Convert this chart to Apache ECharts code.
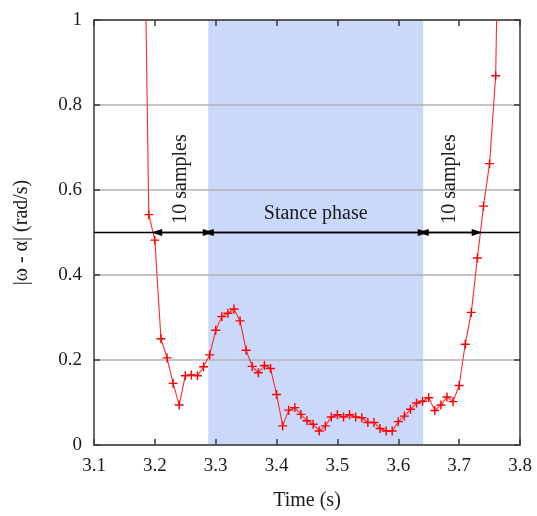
<!DOCTYPE html>
<html>
<head>
<meta charset="utf-8">
<script src="https://cdn.jsdelivr.net/npm/echarts/dist/echarts.min.js"></script>
<style>
  html, body { margin: 0; padding: 0; background: #ffffff; }
  #chart { width: 537px; height: 516px; }
</style>
</head>
<body>
<div id="chart"></div>
<script>
// Sample times (s) and the angular-rate mismatch |ω - α| (rad/s) at each sample
const timeS = [
  3.18, 3.19, 3.20, 3.21, 3.22, 3.23, 3.24, 3.25, 3.26, 3.27,
  3.28, 3.29, 3.30, 3.31, 3.32, 3.33, 3.34, 3.35, 3.36, 3.37,
  3.38, 3.39, 3.40, 3.41, 3.42, 3.43, 3.44, 3.45, 3.46, 3.47,
  3.48, 3.49, 3.50, 3.51, 3.52, 3.53, 3.54, 3.55, 3.56, 3.57,
  3.58, 3.59, 3.60, 3.61, 3.62, 3.63, 3.64, 3.65, 3.66, 3.67,
  3.68, 3.69, 3.70, 3.71, 3.72, 3.73, 3.74, 3.75, 3.76, 3.77
];
const rateError = [
  1.55, 0.542, 0.482, 0.250, 0.205, 0.145, 0.094, 0.163, 0.165, 0.163,
  0.184, 0.212, 0.270, 0.302, 0.310, 0.320, 0.292, 0.223, 0.185, 0.170,
  0.187, 0.180, 0.119, 0.045, 0.082, 0.088, 0.072, 0.057, 0.049, 0.033,
  0.045, 0.066, 0.071, 0.066, 0.071, 0.066, 0.064, 0.053, 0.053, 0.039,
  0.033, 0.033, 0.055, 0.068, 0.084, 0.099, 0.103, 0.111, 0.081, 0.094,
  0.113, 0.102, 0.140, 0.237, 0.312, 0.440, 0.562, 0.662, 0.869, 1.70
];

// Stance phase interval (s) and the 10-sample windows either side of it
const stancePhase = [3.2877, 3.641];
const windowBefore = [3.203, 3.2877];
const windowAfter = [3.641, 3.7296];
const arrowLevel = 0.5;

// Axis ranges
const xRange = [3.1, 3.8];
const yRange = [0, 1];

const FONT = '"Liberation Serif", "Times New Roman", serif';
const AXIS_COLOR = '#3a3a3a';
const TEXT_COLOR = '#1a1a1a';

const points = timeS.map((t, i) => [t, rateError[i]]);

const plusSymbol = 'path://M4.2,0H5.8V4.2H10V5.8H5.8V10H4.2V5.8H0V4.2H4.2Z';

function xAxisBase(pos, showLabels) {
  return {
    type: 'value',
    position: pos,
    min: xRange[0],
    max: xRange[1],
    interval: 0.1,
    axisLine: { show: true, onZero: false, lineStyle: { color: AXIS_COLOR, width: 1.5 } },
    axisTick: { show: true, inside: true, length: 6, lineStyle: { color: AXIS_COLOR, width: 1.5 } },
    splitLine: { show: false },
    axisLabel: {
      show: showLabels,
      margin: 12,
      color: TEXT_COLOR,
      fontFamily: FONT,
      fontSize: 19,
      formatter: v => v.toFixed(1)
    }
  };
}

function yAxisBase(pos, showLabels) {
  return {
    type: 'value',
    position: pos,
    min: yRange[0],
    max: yRange[1],
    interval: 0.2,
    axisLine: { show: true, onZero: false, lineStyle: { color: AXIS_COLOR, width: 1.5 } },
    axisTick: { show: true, inside: true, length: 6, lineStyle: { color: AXIS_COLOR, width: 1.5 } },
    splitLine: { show: showLabels, lineStyle: { color: '#b3b3b3', width: 1.5 } },
    axisLabel: {
      show: showLabels,
      margin: 12,
      color: TEXT_COLOR,
      fontFamily: FONT,
      fontSize: 19,
      formatter: v => (v === 0 ? '0' : (v === 1 ? '1' : v.toFixed(1)))
    }
  };
}

const xBottom = Object.assign(xAxisBase('bottom', true), {
  name: 'Time (s)',
  nameLocation: 'middle',
  nameGap: 46,
  nameTextStyle: { color: TEXT_COLOR, fontFamily: FONT, fontSize: 20 }
});
const xTop = xAxisBase('top', false);

const yLeft = Object.assign(yAxisBase('left', true), {
  name: '|ω - α| (rad/s)',
  nameLocation: 'middle',
  nameGap: 62,
  nameTextStyle: { color: TEXT_COLOR, fontFamily: FONT, fontSize: 20 }
});
const yRight = yAxisBase('right', false);

const labelStyle = { color: TEXT_COLOR, fontFamily: FONT, fontSize: 20 };

const chart = echarts.init(document.getElementById('chart'), null, { renderer: 'canvas' });

chart.setOption({
  animation: false,
  backgroundColor: '#ffffff',
  grid: { left: 94, right: 17, top: 20, bottom: 68.5, containLabel: false },
  xAxis: [xBottom, xTop],
  yAxis: [yLeft, yRight],
  series: [
    {
      // stance phase shading
      name: 'stance',
      type: 'line',
      data: [],
      z: -1,
      silent: true,
      markArea: {
        silent: true,
        z: -1,
        itemStyle: { color: '#cad8fa' },
        data: [[{ coord: [stancePhase[0], yRange[0]] }, { coord: [stancePhase[1], yRange[1]] }]]
      }
    },
    {
      name: 'rate error',
      type: 'line',
      data: points,
      z: 4,
      clip: true,
      symbol: plusSymbol,
      symbolSize: 9,
      showAllSymbol: true,
      lineStyle: { color: '#ff2a2a', width: 1.1 },
      itemStyle: { color: '#ff0000', borderWidth: 0 }
    },
    {
      // window arrows and their labels
      name: 'annotations',
      type: 'line',
      data: [],
      z: 5,
      silent: true,
      markLine: {
        silent: true,
        animation: false,
        label: { show: false },
        lineStyle: { color: '#000000', width: 1.3, type: 'solid' },
        symbolSize: [7, 11],
        data: [
          [
            { coord: [xRange[0], arrowLevel], symbol: 'none' },
            { coord: [xRange[1], arrowLevel], symbol: 'none' }
          ],
          [
            { coord: [windowBefore[0], arrowLevel], symbol: 'triangle' },
            { coord: [windowBefore[1], arrowLevel], symbol: 'triangle' }
          ],
          [
            { coord: [stancePhase[0], arrowLevel], symbol: 'triangle' },
            { coord: [stancePhase[1], arrowLevel], symbol: 'triangle' }
          ],
          [
            { coord: [windowAfter[0], arrowLevel], symbol: 'triangle' },
            { coord: [windowAfter[1], arrowLevel], symbol: 'triangle' }
          ]
        ]
      },
      markPoint: {
        silent: true,
        symbol: 'circle',
        symbolSize: 0,
        data: [
          {
            coord: [(windowBefore[0] + windowBefore[1]) / 2 - 0.002, 0.626],
            label: { show: true, position: 'inside', rotate: 90, formatter: '10 samples', ...labelStyle }
          },
          {
            coord: [(windowAfter[0] + windowAfter[1]) / 2, 0.626],
            label: { show: true, position: 'inside', rotate: 90, formatter: '10 samples', ...labelStyle }
          },
          {
            coord: [(stancePhase[0] + stancePhase[1]) / 2, 0.544],
            label: { show: true, position: 'inside', formatter: 'Stance phase', ...labelStyle }
          }
        ]
      }
    }
  ]
});
</script>
</body>
</html>
